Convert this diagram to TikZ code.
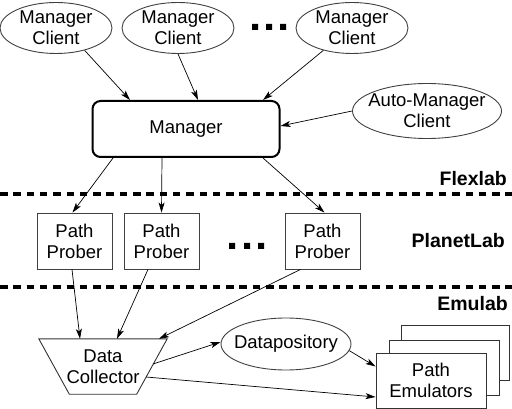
\documentclass[tikz,border=0pt]{standalone}
\usepackage{fontspec}
\setmainfont{Liberation Sans}
\usetikzlibrary{arrows.meta,shapes.geometric}
\begin{document}
\begin{tikzpicture}[x=1pt,y=-1pt,
  every node/.style={font=\fontsize{18.5}{21}\selectfont, text=black},
  cli/.style={ellipse, draw=black!75, line width=0.9pt, inner sep=0pt},
  lbl/.style={align=center, inner sep=0pt},
  mgrbox/.style={draw=black, line width=2pt, rounded corners=8pt, minimum width=187, minimum height=56},
  probe/.style={draw=black!75, line width=0.9pt, align=center, minimum width=75, minimum height=56, inner sep=2pt},
  emu/.style={draw=black!80, line width=0.9pt, fill=white, align=center, minimum width=110, minimum height=55, inner sep=2pt},
  layer/.style={font=\fontsize{19.5}{22}\selectfont\bfseries, anchor=east, inner sep=0pt},
  sep/.style={line width=4pt, dash pattern=on 7.5pt off 5.8pt},
  conn/.style={line width=0.7pt, -{Stealth[length=10pt,width=6pt,inset=2.5pt]}},
  dotsq/.style={fill=black}
]
\useasboundingbox (0,0) rectangle (512,409);

% top clients
\node[cli, minimum width=112, minimum height=51, label={[lbl]center:Manager\\Client}] (mc1) at (56,28) {};
\node[cli, minimum width=112, minimum height=51, label={[lbl]center:Manager\\Client}] (mc2) at (178,28) {};
\node[cli, minimum width=112, minimum height=51, label={[lbl]center:Manager\\Client}] (mc3) at (352,28) {};
\node[cli, minimum width=149, minimum height=55, label={[lbl]center:Auto-Manager\\Client}] (amc) at (427,111) {};
\fill[dotsq] (252,24) rectangle (258,30) (266,24) rectangle (272,30) (280,24) rectangle (286,30);

% manager
\node[mgrbox] (mgr) at (186,129) {Manager};

\draw[conn] (mc1.-38) -- ([xshift=-56pt]mgr.north);
\draw[conn] (mc2.south) -- ([xshift=12pt]mgr.north);
\draw[conn] (mc3.-142) -- ([xshift=77pt]mgr.north);
\draw[conn] (amc.west) -- ([yshift=3pt]mgr.east);

% separators and labels
\draw[sep] (0,194) -- (512,194);
\draw[sep] (0,287) -- (512,287);
\node[layer] (flex) at (507,178.5) {Flexlab};
\node[layer] (planet) at (505,241) {PlanetLab};
\node[layer] (emul) at (508,303.5) {Emulab};

% path probers
\node[probe] (pp1) at (74.5,241) {Path\\Prober};
\node[probe] (pp2) at (161.5,241) {Path\\Prober};
\node[probe] (pp3) at (322.5,241) {Path\\Prober};
\fill[dotsq] (229,243) rectangle (235,249) (244,243) rectangle (250,249) (258,243) rectangle (264,249);

\draw[conn] ([xshift=-73pt]mgr.south) -- ([xshift=-2pt]pp1.north);
\draw[conn] ([xshift=-24pt]mgr.south) -- (pp2.north);
\draw[conn] ([xshift=77pt]mgr.south) -- ([xshift=2pt]pp3.north);

% data collector
\node[align=center, minimum width=128, minimum height=55, inner sep=0pt] (dc) at (103,366.5) {Data\\Collector};
\draw[draw=black!80, line width=0.9pt] (dc.north west) -- (dc.north east) -- ([xshift=-30.5pt]dc.south east) -- ([xshift=30.5pt]dc.south west) -- cycle;

\draw[conn] ([xshift=-2.5pt]pp1.south) -- ([xshift=-23pt]dc.north);
\draw[conn] ([xshift=-13.5pt]pp2.south) -- ([xshift=14pt]dc.north);
\draw[conn] ([xshift=-22pt]pp3.south) -- ([xshift=56pt]dc.north);

% datapository
\node[cli, minimum width=130, minimum height=52, label={[lbl]center:Datapository}] (dp) at (286,344) {};

% path emulators
\node[emu, minimum width=108] (pe3) at (455,353) {};
\node[emu] (pe2) at (444,367.5) {};
\node[emu] (pe) at (431,380.5) {Path\\Emulators};

\draw[conn] ([xshift=50pt,yshift=2.5pt]dc.center) -- ([yshift=2pt]dp.west);
\draw[conn] ([xshift=43pt,yshift=-10.5pt]dc.center) -- ([yshift=-16.5pt]pe.west);
\draw[conn] (dp.-6) -- ([yshift=14pt]pe.west);
\end{tikzpicture}
\end{document}
